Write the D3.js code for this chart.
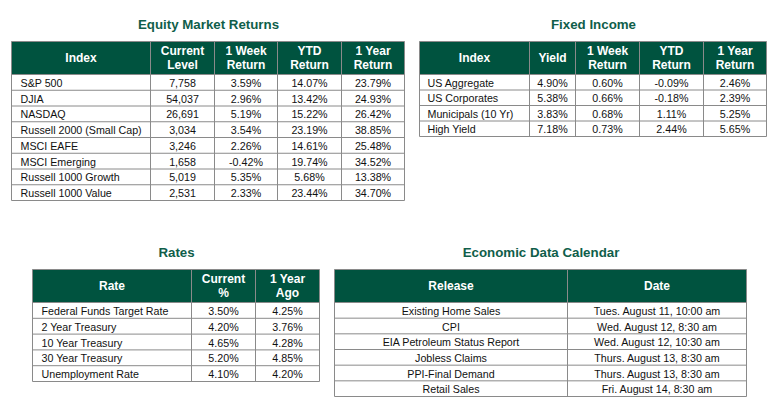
<!DOCTYPE html>
<html><head><meta charset="utf-8">
<script src="https://cdn.jsdelivr.net/npm/d3@7"></script>
<style>
body{margin:0;background:#fff;}
svg{display:block;font-family:"Liberation Sans",Arial,sans-serif;}
</style></head>
<body>
<svg id="chart" width="775" height="409"></svg>
<script>
// ---------- DATA ----------
const equityHeaders = ["Index", "Current\nLevel", "1 Week\nReturn", "YTD\nReturn", "1 Year\nReturn"];
const equityIndex = ["S&P 500", "DJIA", "NASDAQ", "Russell 2000 (Small Cap)", "MSCI EAFE", "MSCI Emerging", "Russell 1000 Growth", "Russell 1000 Value"];
const equityLevel = ["7,758", "54,037", "26,691", "3,034", "3,246", "1,658", "5,019", "2,531"];
const equityWeek = ["3.59%", "2.96%", "5.19%", "3.54%", "2.26%", "-0.42%", "5.35%", "2.33%"];
const equityYTD = ["14.07%", "13.42%", "15.22%", "23.19%", "14.61%", "19.74%", "5.68%", "23.44%"];
const equityYear = ["23.79%", "24.93%", "26.42%", "38.85%", "25.48%", "34.52%", "13.38%", "34.70%"];

const fixedHeaders = ["Index", "Yield", "1 Week\nReturn", "YTD\nReturn", "1 Year\nReturn"];
const fixedIndex = ["US Aggregate", "US Corporates", "Municipals (10 Yr)", "High Yield"];
const fixedYield = ["4.90%", "5.38%", "3.83%", "7.18%"];
const fixedWeek = ["0.60%", "0.66%", "0.68%", "0.73%"];
const fixedYTD = ["-0.09%", "-0.18%", "1.11%", "2.44%"];
const fixedYear = ["2.46%", "2.39%", "5.25%", "5.65%"];

const ratesHeaders = ["Rate", "Current\n%", "1 Year\nAgo"];
const ratesName = ["Federal Funds Target Rate", "2 Year Treasury", "10 Year Treasury", "30 Year Treasury", "Unemployment Rate"];
const ratesCurrent = ["3.50%", "4.20%", "4.65%", "5.20%", "4.10%"];
const ratesAgo = ["4.25%", "3.76%", "4.28%", "4.85%", "4.20%"];

const calHeaders = ["Release", "Date"];
const calRelease = ["Existing Home Sales", "CPI", "EIA Petroleum Status Report", "Jobless Claims", "PPI-Final Demand", "Retail Sales"];
const calDate = ["Tues. August 11, 10:00 am", "Wed. August 12, 8:30 am", "Wed. August 12, 10:30 am", "Thurs. August 13, 8:30 am", "Thurs. August 13, 8:30 am", "Fri. August 14, 8:30 am"];

// ---------- DRAW ----------
const svg = d3.select("#chart");
const HEAD_FILL = "#00533f", BORDER = "#8a8a8a", TITLE = "#105e4a", TEXT = "#111";

function drawTable(cfg) {
  const g = svg.append("g");
  const nRows = cfg.columns[0].length;
  const x = d3.scaleOrdinal().domain(d3.range(cfg.edges.length)).range(cfg.edges);
  const y = d3.scaleBand().domain(d3.range(nRows)).range([cfg.headBottom, cfg.bottom]);
  const left = cfg.edges[0], right = cfg.edges[cfg.edges.length - 1];

  // title
  g.append("text").attr("x", cfg.titleX).attr("y", cfg.titleY)
    .attr("text-anchor", "middle").attr("dominant-baseline", "central")
    .attr("font-weight", "bold").attr("font-size", 13.3).attr("fill", TITLE)
    .text(cfg.title);

  // header
  g.append("rect").attr("x", left).attr("y", cfg.top)
    .attr("width", right - left).attr("height", cfg.headBottom - cfg.top)
    .attr("fill", HEAD_FILL);

  const hc = (cfg.top + cfg.headBottom) / 2;
  cfg.headers.forEach((h, i) => {
    const lines = h.split("\n");
    const cx = (x(i) + x(i + 1)) / 2;
    const t = g.append("text").attr("text-anchor", "middle")
      .attr("font-weight", "bold").attr("font-size", 12).attr("fill", "#fff");
    lines.forEach((ln, j) => {
      t.append("tspan").attr("x", cx)
        .attr("y", hc + (j - (lines.length - 1) / 2) * 13.4)
        .attr("dominant-baseline", "central").text(ln);
    });
  });

  // body rows
  cfg.columns.forEach((col, ci) => {
    col.forEach((v, ri) => {
      const alignLeft = ci === 0 && cfg.firstLeft;
      g.append("text")
        .attr("x", alignLeft ? x(0) + cfg.pad : (x(ci) + x(ci + 1)) / 2)
        .attr("y", y(ri) + y.bandwidth() / 2 + 0.5)
        .attr("text-anchor", alignLeft ? "start" : "middle")
        .attr("dominant-baseline", "central")
        .attr("font-size", 10.7).attr("fill", TEXT).text(v);
    });
  });

  // grid lines
  const lines = g.append("g").attr("stroke", BORDER).attr("stroke-width", 1).attr("fill", "none");
  d3.range(nRows + 1).forEach(ri => {
    const yy = ri === nRows ? cfg.bottom : y(ri);
    lines.append("line").attr("x1", left).attr("x2", right).attr("y1", yy).attr("y2", yy);
  });
  lines.append("line").attr("x1", left).attr("x2", right).attr("y1", cfg.top).attr("y2", cfg.top);
  cfg.edges.forEach(e => {
    lines.append("line").attr("x1", e).attr("x2", e).attr("y1", cfg.top).attr("y2", cfg.bottom);
  });
}

drawTable({
  title: "Equity Market Returns", titleX: 208.5, titleY: 24,
  headers: equityHeaders,
  columns: [equityIndex, equityLevel, equityWeek, equityYTD, equityYear],
  edges: [11.5, 150.5, 214.5, 277.5, 341.5, 404.5],
  top: 41.5, headBottom: 74.5, bottom: 200.5, firstLeft: true, pad: 9
});

drawTable({
  title: "Fixed Income", titleX: 593.5, titleY: 24,
  headers: fixedHeaders,
  columns: [fixedIndex, fixedYield, fixedWeek, fixedYTD, fixedYear],
  edges: [419.5, 529.5, 575.5, 639.5, 703.5, 766.5],
  top: 41.5, headBottom: 74.5, bottom: 136.5, firstLeft: true, pad: 8
});

drawTable({
  title: "Rates", titleX: 176.5, titleY: 252.5,
  headers: ratesHeaders,
  columns: [ratesName, ratesCurrent, ratesAgo],
  edges: [32.5, 191.5, 255.5, 319.5],
  top: 269.5, headBottom: 302.5, bottom: 381.5, firstLeft: true, pad: 9
});

drawTable({
  title: "Economic Data Calendar", titleX: 541, titleY: 252.5,
  headers: calHeaders,
  columns: [calRelease, calDate],
  edges: [334.5, 567.5, 746.5],
  top: 269.5, headBottom: 302.5, bottom: 396.5, firstLeft: false, pad: 0
});
</script>
</body></html>
